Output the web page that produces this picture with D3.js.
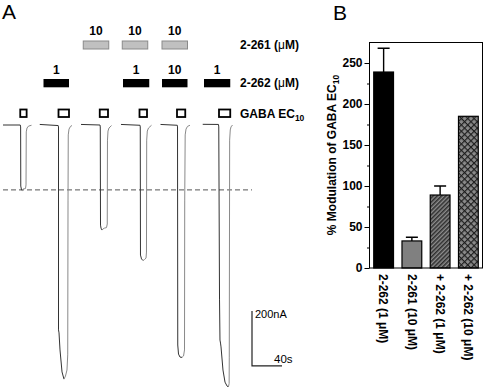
<!DOCTYPE html>
<html>
<head>
<meta charset="utf-8">
<script src="https://cdn.jsdelivr.net/npm/d3@7"></script>
<style>
  body { margin: 0; background: #fff; overflow: hidden; }
  svg { display: block; font-family: "Liberation Sans", Arial, sans-serif; }
</style>
</head>
<body>
<script>
// ---- Panel A: current traces, [time (s), current (nA)] ----
const trace1 = [[4,0],[27,0],[27.5,-7],[27.7,-222],[28.7,-236],[29.7,-238],[30.7,-233],[34,-231],[34.7,-218],[35,-25],[36,-11],[38,-4],[42,-1]];
const trace2 = [[53,2],[77.6,-2],[78,-7],[78,-745],[78.7,-756],[80,-818],[82.7,-898],[85.3,-924],[87.3,-913],[89.3,-891],[90.3,-836],[90.7,-273],[91,-36],[92,-15],[94,-5],[96,-2]];
const trace3 = [[108,2],[133.3,0],[133.7,-7],[134,-364],[134.7,-375],[136,-382],[137.3,-378],[139.3,-375],[142,-373],[143,-360],[143.3,-55],[144,-22],[145.3,-11],[148.7,-2]];
const trace4 = [[161.3,2],[186.7,-1],[187,-7],[187.3,-473],[188.7,-487],[190.7,-493],[192.7,-489],[194.7,-484],[195.3,-462],[195.6,-55],[196.4,-22],[198,-11],[202,-1]];
const trace5 = [[214,2],[236.4,-1],[236.7,-7],[237,-800],[238,-833],[240,-844],[242.7,-845],[244.7,-840],[246,-818],[246.3,-273],[246.9,-36],[248,-15],[250,-5],[253.3,-1]];
const trace6 = [[270.3,2.5],[291.3,2],[291.7,-7],[292.7,-636],[293.3,-782],[294,-793],[294.7,-807],[297.3,-891],[300,-935],[302.7,-949],[304.5,-953],[305.5,-940],[305.7,-844],[306.2,-55],[307,-18],[308,-7],[310,0]];
const traces = [trace1, trace2, trace3, trace4, trace5, trace6];

const gabaStart = [27, 78, 133, 186, 236, 292];
const gabaEnd = [35.5, 92, 144, 196, 247, 307];
const drug261Start = [111, 163, 216];
const drug261End = [145, 197, 250];
const drug261Conc = ["10", "10", "10"];
const drug262Start = [58, 164, 216, 272];
const drug262End = [92, 199, 250, 307];
const drug262Conc = ["1", "1", "10", "1"];
const refCurrent = -236;      // dashed line = first GABA response
const scaleBarTime = 40;      // s
const scaleBarCurrent = 200;  // nA

// ---- Panel B: % modulation ----
const categories = ["2-262 (1 μM)", "2-261 (10 μM)", "+ 2-262 (1 μM)", "+ 2-262 (10 μM)"];
const modulation = [239, 33, 89, 185];
const modulationErr = [29, 4.5, 11, 0];
const yTicks = [0, 50, 100, 150, 200, 250];
const yMinorTicks = [25, 75, 125, 175, 225];

const W = 484, H = 387;
const svg = d3.select("body").append("svg").attr("width", W).attr("height", H);

const defs = svg.append("defs");
const hatch = defs.append("pattern").attr("id", "hatch")
    .attr("patternUnits", "userSpaceOnUse").attr("width", 3).attr("height", 3)
    .attr("patternTransform", "rotate(45)");
hatch.append("rect").attr("width", 3).attr("height", 3).attr("fill", "#8e8e8e");
hatch.append("line").attr("x1", 0.8).attr("y1", 0).attr("x2", 0.8).attr("y2", 3)
    .attr("stroke", "#2a2a2a").attr("stroke-width", 1.5);

const cross = defs.append("pattern").attr("id", "cross")
    .attr("patternUnits", "userSpaceOnUse").attr("width", 4.5).attr("height", 4.5)
    .attr("patternTransform", "rotate(45)");
cross.append("rect").attr("width", 4.5).attr("height", 4.5).attr("fill", "#8a8a8a");
cross.append("line").attr("x1", 0).attr("y1", 0).attr("x2", 0).attr("y2", 4.5)
    .attr("stroke", "#1e1e1e").attr("stroke-width", 2.3);
cross.append("line").attr("x1", 0).attr("y1", 0).attr("x2", 4.5).attr("y2", 0)
    .attr("stroke", "#1e1e1e").attr("stroke-width", 2.3);

function renderPanelA() {
    const x = d3.scaleLinear().domain([0, 340]).range([0, 255]);
    const y = d3.scaleLinear().domain([0, -1000]).range([125, 400]);
    const g = svg.append("g").attr("class", "panelA");

    g.append("text").attr("x", 2).attr("y", 19).attr("font-size", 21).text("A");

    // reference dashed line
    g.append("line")
        .attr("x1", x(4)).attr("x2", x(336))
        .attr("y1", y(refCurrent)).attr("y2", y(refCurrent))
        .attr("stroke", "#555").attr("stroke-dasharray", "5,3");

    const line = d3.line().x((d) => x(d[0])).y((d) => y(d[1]));
    traces.forEach((tr) => {
        // split at the peak so the falling and rising phases can differ in tone
        const iMin = d3.minIndex(tr, (d) => d[1]);
        g.append("path").attr("d", line(tr.slice(0, iMin + 1)))
            .attr("fill", "none").attr("stroke", "#333").attr("stroke-width", 1);
        g.append("path").attr("d", line(tr.slice(iMin)))
            .attr("fill", "none").attr("stroke", "#8a8a8a").attr("stroke-width", 1);
    });

    // application bars
    g.selectAll("rect.d261").data(drug261Start).enter().append("rect")
        .attr("class", "d261")
        .attr("x", (d) => x(d)).attr("y", 41)
        .attr("width", (d, i) => x(drug261End[i]) - x(d)).attr("height", 8)
        .attr("fill", "#c0c0c0").attr("stroke", "#8a8a8a");
    g.selectAll("text.d261").data(drug261Conc).enter().append("text")
        .attr("class", "d261")
        .attr("x", (d, i) => (x(drug261Start[i]) + x(drug261End[i])) / 2).attr("y", 35)
        .attr("text-anchor", "middle").attr("font-size", 12).attr("font-weight", "bold")
        .text((d) => d);

    g.selectAll("rect.d262").data(drug262Start).enter().append("rect")
        .attr("class", "d262")
        .attr("x", (d) => x(d)).attr("y", 79)
        .attr("width", (d, i) => x(drug262End[i]) - x(d)).attr("height", 8.3)
        .attr("fill", "#000");
    g.selectAll("text.d262").data(drug262Conc).enter().append("text")
        .attr("class", "d262")
        .attr("x", (d, i) => (x(drug262Start[i]) + x(drug262End[i])) / 2).attr("y", 73.5)
        .attr("text-anchor", "middle").attr("font-size", 12).attr("font-weight", "bold")
        .text((d) => d);

    g.selectAll("rect.gaba").data(gabaStart).enter().append("rect")
        .attr("class", "gaba")
        .attr("x", (d) => x(d)).attr("y", 109.5)
        .attr("width", (d, i) => x(gabaEnd[i]) - x(d)).attr("height", 7.5)
        .attr("fill", "#fff").attr("stroke", "#000").attr("stroke-width", 1.8);

    // row labels
    const lab = g.append("g").attr("font-size", 12).attr("font-weight", "bold");
    const t1 = lab.append("text").attr("x", 240).attr("y", 48.5);
    t1.append("tspan").text("2-261 (");
    t1.append("tspan").attr("font-weight", "normal").text("μ");
    t1.append("tspan").text("M)");
    const t2 = lab.append("text").attr("x", 240).attr("y", 87);
    t2.append("tspan").text("2-262 (");
    t2.append("tspan").attr("font-weight", "normal").text("μ");
    t2.append("tspan").text("M)");
    const t3 = lab.append("text").attr("x", 240).attr("y", 118);
    t3.append("tspan").text("GABA EC");
    t3.append("tspan").attr("font-size", 8.5).attr("dy", 3).text("10");

    // scale bar
    const x0 = x(336), y0 = y(-876);
    g.append("path")
        .attr("d", `M${x0},${y(-876 + scaleBarCurrent)}V${y0}H${x(336 + scaleBarTime)}`)
        .attr("fill", "none").attr("stroke", "#222").attr("stroke-width", 1.2);
    g.append("text").attr("x", x0 + 3).attr("y", 318).attr("font-size", 11)
        .text(scaleBarCurrent + "nA");
    g.append("text").attr("x", x(336 + scaleBarTime) - 8).attr("y", 363).attr("font-size", 11.5)
        .text(scaleBarTime + "s");
}

function renderPanelB() {
    const x = d3.scaleBand().domain(categories).range([369.5, 482.5])
        .paddingInner(0.3).paddingOuter(0.15);
    const y = d3.scaleLinear().domain([0, 275]).range([268, 42.5]);
    const g = svg.append("g").attr("class", "panelB");

    g.append("text").attr("x", 333).attr("y", 20).attr("font-size", 21).text("B");

    const fills = ["#000", "#808080", "url(#hatch)", "url(#cross)"];

    g.selectAll("rect.bar").data(modulation).enter().append("rect")
        .attr("class", "bar")
        .attr("x", (d, i) => x(categories[i])).attr("width", x.bandwidth())
        .attr("y", (d) => y(d)).attr("height", (d) => y(0) - y(d))
        .attr("fill", (d, i) => fills[i]).attr("stroke", "#000").attr("stroke-width", 1.2);

    // error bars (upper only)
    modulation.forEach((d, i) => {
        if (!modulationErr[i]) return;
        const cx = x(categories[i]) + x.bandwidth() / 2;
        g.append("path")
            .attr("d", `M${cx},${y(d)}V${y(d + modulationErr[i])}M${cx - 6},${y(d + modulationErr[i])}H${cx + 6}`)
            .attr("fill", "none").attr("stroke", "#000").attr("stroke-width", 1.4);
    });

    g.append("rect").attr("x", 369.5).attr("y", 42.5).attr("width", 113).attr("height", 225.5)
        .attr("fill", "none").attr("stroke", "#000").attr("stroke-width", 1);

    const yAxis = g.append("g").attr("transform", "translate(369.5,0)")
        .call(d3.axisLeft(y).tickValues(yTicks).tickSize(5).tickPadding(2));
    yAxis.select(".domain").remove();
    yAxis.selectAll("text").attr("font-size", 12).attr("font-weight", "bold")
        .attr("font-family", null).attr("fill", "#000");

    const minor = g.append("g").attr("transform", "translate(369.5,0)")
        .call(d3.axisLeft(y).tickValues(yMinorTicks).tickSize(2.5).tickFormat(""));
    minor.select(".domain").remove();

    // category labels, rotated to read downwards
    g.selectAll("text.cat").data(categories).enter().append("text")
        .attr("class", "cat")
        .attr("transform", (d) => `translate(${x(d) + x.bandwidth() / 2},274) rotate(90)`)
        .attr("dy", "0.35em")
        .attr("font-size", 12).attr("font-weight", "bold")
        .text((d) => d);

    const yl = g.append("text")
        .attr("transform", "translate(336,155) rotate(-90)")
        .attr("text-anchor", "middle").attr("font-size", 12).attr("font-weight", "bold");
    yl.append("tspan").text("% Modulation of GABA EC");
    yl.append("tspan").attr("font-size", 8.5).attr("dy", 3).text("10");
}

renderPanelA();
renderPanelB();
</script>
</body>
</html>
